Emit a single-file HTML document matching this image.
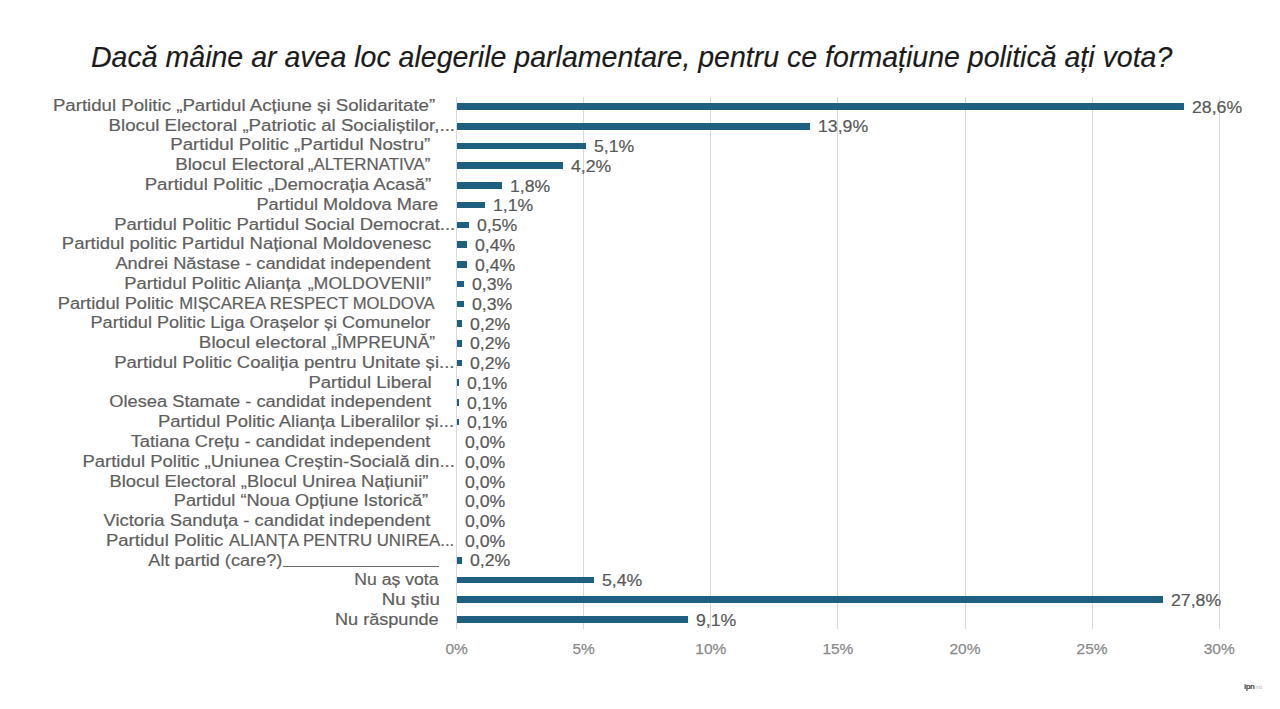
<!DOCTYPE html>
<html><head><meta charset="utf-8">
<style>
html,body{margin:0;padding:0;background:#fff;}
body{position:relative;overflow:hidden;font-family:"Liberation Sans",sans-serif;}
body{width:1280px;height:709px;}
.t{position:absolute;left:91.45px;top:37.2px;font-size:30px;line-height:40px;font-style:italic;color:#1b1b1b;white-space:nowrap;-webkit-text-stroke:0.15px #1b1b1b;transform-origin:0 50%;transform:scaleX(0.9508);}
.g{position:absolute;top:97px;height:532px;width:1px;background:#d9d9d9;}
.ax{position:absolute;top:639px;width:80px;text-align:center;font-size:15.5px;color:#8a8a8a;-webkit-text-stroke:0.25px #8a8a8a;line-height:20px;}
.lb{position:absolute;font-size:16px;line-height:20px;color:#5f5f5f;white-space:nowrap;transform-origin:100% 50%;-webkit-text-stroke:0.2px #5f5f5f;}
.b{position:absolute;height:6.6px;background:#1f6080;}
.dl{position:absolute;font-size:16px;line-height:20px;color:#595959;white-space:nowrap;transform-origin:0 50%;-webkit-text-stroke:0.2px #595959;}
.logo{position:absolute;left:1244px;top:682px;font-size:8px;font-weight:bold;color:#444;letter-spacing:-0.5px;}
.logo span{font-weight:normal;color:#bbb;font-size:5px;margin-left:1px;}
</style></head><body>
<div class="t">Dacă mâine ar avea loc alegerile parlamentare, pentru ce formațiune politică ați vota?</div>
<div class="g" style="left:456.10px"></div>
<div class="g" style="left:583.20px"></div>
<div class="g" style="left:710.30px"></div>
<div class="g" style="left:837.40px"></div>
<div class="g" style="left:964.50px"></div>
<div class="g" style="left:1091.60px"></div>
<div class="g" style="left:1218.70px"></div>
<div class="ax" style="left:416.60px">0%</div>
<div class="ax" style="left:543.70px">5%</div>
<div class="ax" style="left:670.80px">10%</div>
<div class="ax" style="left:797.90px">15%</div>
<div class="ax" style="left:925.00px">20%</div>
<div class="ax" style="left:1052.10px">25%</div>
<div class="ax" style="left:1179.20px">30%</div>
<div class="b" style="left:456.60px;top:103.20px;width:727.01px"></div>
<div class="b" style="left:456.60px;top:122.93px;width:353.34px"></div>
<div class="b" style="left:456.60px;top:142.66px;width:129.64px"></div>
<div class="b" style="left:456.60px;top:162.39px;width:106.76px"></div>
<div class="b" style="left:456.60px;top:182.12px;width:45.76px"></div>
<div class="b" style="left:456.60px;top:201.85px;width:27.96px"></div>
<div class="b" style="left:456.60px;top:221.58px;width:12.71px"></div>
<div class="b" style="left:456.60px;top:241.31px;width:10.17px"></div>
<div class="b" style="left:456.60px;top:261.04px;width:10.17px"></div>
<div class="b" style="left:456.60px;top:280.77px;width:7.63px"></div>
<div class="b" style="left:456.60px;top:300.50px;width:7.63px"></div>
<div class="b" style="left:456.60px;top:320.23px;width:5.08px"></div>
<div class="b" style="left:456.60px;top:339.96px;width:5.08px"></div>
<div class="b" style="left:456.60px;top:359.69px;width:5.08px"></div>
<div class="b" style="left:456.60px;top:379.42px;width:2.54px"></div>
<div class="b" style="left:456.60px;top:399.15px;width:2.54px"></div>
<div class="b" style="left:456.60px;top:418.88px;width:2.54px"></div>
<div class="b" style="left:456.60px;top:556.99px;width:5.08px"></div>
<div class="b" style="left:456.60px;top:576.72px;width:137.27px"></div>
<div class="b" style="left:456.60px;top:596.45px;width:706.68px"></div>
<div class="b" style="left:456.60px;top:616.18px;width:231.32px"></div>
<div class="lb" style="right:844.40px;top:95.90px;transform:scaleX(1.1648)">Partidul Politic „Partidul Acțiune și Solidaritate”</div>
<div class="lb" style="right:825.03px;top:115.67px;transform:scaleX(1.1664)">Blocul Electoral „Patriotic al Socialiștilor,...</div>
<div class="lb" style="right:849.30px;top:135.44px;transform:scaleX(1.1701)">Partidul Politic „Partidul Nostru”</div>
<div class="lb" style="right:975.93px;top:155.21px;transform:scaleX(1.1704)">Blocul Electoral</div>
<div class="lb" style="right:849.30px;top:155.21px;transform:scaleX(1.0534)">„ALTERNATIVA”</div>
<div class="lb" style="right:848.50px;top:174.98px;transform:scaleX(1.1637)">Partidul Politic „Democrația Acasă”</div>
<div class="lb" style="right:842.00px;top:194.75px;transform:scaleX(1.1346)">Partidul Moldova Mare</div>
<div class="lb" style="right:825.25px;top:214.52px;transform:scaleX(1.1549)">Partidul Politic Partidul Social Democrat...</div>
<div class="lb" style="right:849.20px;top:234.29px;transform:scaleX(1.1536)">Partidul politic Partidul Național Moldovenesc</div>
<div class="lb" style="right:849.20px;top:254.06px;transform:scaleX(1.1394)">Andrei Năstase - candidat independent</div>
<div class="lb" style="right:978.80px;top:273.83px;transform:scaleX(1.1484)">Partidul Politic Alianța</div>
<div class="lb" style="right:849.20px;top:273.83px;transform:scaleX(1.1108)">„MOLDOVENII”</div>
<div class="lb" style="right:1106.80px;top:293.60px;transform:scaleX(1.1410)">Partidul Politic</div>
<div class="lb" style="right:845.00px;top:293.60px;transform:scaleX(1.0400)">MIȘCAREA RESPECT MOLDOVA</div>
<div class="lb" style="right:849.20px;top:313.37px;transform:scaleX(1.1313)">Partidul Politic Liga Orașelor și Comunelor</div>
<div class="lb" style="right:953.12px;top:333.14px;transform:scaleX(1.1766)">Blocul electoral</div>
<div class="lb" style="right:845.00px;top:333.14px;transform:scaleX(1.0916)">„ÎMPREUNĂ”</div>
<div class="lb" style="right:825.24px;top:352.91px;transform:scaleX(1.1596)">Partidul Politic Coaliția pentru Unitate și...</div>
<div class="lb" style="right:848.04px;top:372.68px;transform:scaleX(1.1552)">Partidul Liberal</div>
<div class="lb" style="right:849.20px;top:392.45px;transform:scaleX(1.1408)">Olesea Stamate - candidat independent</div>
<div class="lb" style="right:825.75px;top:412.22px;transform:scaleX(1.1522)">Partidul Politic Alianța Liberalilor și...</div>
<div class="lb" style="right:849.20px;top:431.99px;transform:scaleX(1.1420)">Tatiana Crețu - candidat independent</div>
<div class="lb" style="right:825.25px;top:451.76px;transform:scaleX(1.1533)">Partidul Politic „Uniunea Creștin-Socială din...</div>
<div class="lb" style="right:851.50px;top:471.53px;transform:scaleX(1.1458)">Blocul Electoral „Blocul Unirea Națiunii”</div>
<div class="lb" style="right:851.50px;top:491.30px;transform:scaleX(1.1345)">Partidul “Noua Opțiune Istorică”</div>
<div class="lb" style="right:849.20px;top:511.07px;transform:scaleX(1.1493)">Victoria Sanduța - candidat independent</div>
<div class="lb" style="right:1056.20px;top:530.84px;transform:scaleX(1.1590)">Partidul Politic</div>
<div class="lb" style="right:825.55px;top:530.84px;transform:scaleX(1.0512)">ALIANȚA PENTRU UNIREA...</div>
<div class="lb" style="right:997.77px;top:550.61px;transform:scaleX(1.1325)">Alt partid (care?)</div>
<div class="lb" style="right:841.50px;top:570.38px;transform:scaleX(1.1000)">Nu aș vota</div>
<div class="lb" style="right:840.33px;top:590.15px;transform:scaleX(1.1667)">Nu știu</div>
<div class="lb" style="right:841.50px;top:609.92px;transform:scaleX(1.1308)">Nu răspunde</div>
<div class="dl" style="left:1191.61px;top:97.70px;transform:scaleX(1.1044)">28,6%</div>
<div class="dl" style="left:817.94px;top:117.43px;transform:scaleX(1.1044)">13,9%</div>
<div class="dl" style="left:594.24px;top:137.16px;transform:scaleX(1.1044)">5,1%</div>
<div class="dl" style="left:571.36px;top:156.89px;transform:scaleX(1.1044)">4,2%</div>
<div class="dl" style="left:510.36px;top:176.62px;transform:scaleX(1.1044)">1,8%</div>
<div class="dl" style="left:492.56px;top:196.35px;transform:scaleX(1.1044)">1,1%</div>
<div class="dl" style="left:477.31px;top:216.08px;transform:scaleX(1.1044)">0,5%</div>
<div class="dl" style="left:474.77px;top:235.81px;transform:scaleX(1.1044)">0,4%</div>
<div class="dl" style="left:474.77px;top:255.54px;transform:scaleX(1.1044)">0,4%</div>
<div class="dl" style="left:472.23px;top:275.27px;transform:scaleX(1.1044)">0,3%</div>
<div class="dl" style="left:472.23px;top:295.00px;transform:scaleX(1.1044)">0,3%</div>
<div class="dl" style="left:469.68px;top:314.73px;transform:scaleX(1.1044)">0,2%</div>
<div class="dl" style="left:469.68px;top:334.46px;transform:scaleX(1.1044)">0,2%</div>
<div class="dl" style="left:469.68px;top:354.19px;transform:scaleX(1.1044)">0,2%</div>
<div class="dl" style="left:467.14px;top:373.92px;transform:scaleX(1.1044)">0,1%</div>
<div class="dl" style="left:467.14px;top:393.65px;transform:scaleX(1.1044)">0,1%</div>
<div class="dl" style="left:467.14px;top:413.38px;transform:scaleX(1.1044)">0,1%</div>
<div class="dl" style="left:464.60px;top:433.11px;transform:scaleX(1.1044)">0,0%</div>
<div class="dl" style="left:464.60px;top:452.84px;transform:scaleX(1.1044)">0,0%</div>
<div class="dl" style="left:464.60px;top:472.57px;transform:scaleX(1.1044)">0,0%</div>
<div class="dl" style="left:464.60px;top:492.30px;transform:scaleX(1.1044)">0,0%</div>
<div class="dl" style="left:464.60px;top:512.03px;transform:scaleX(1.1044)">0,0%</div>
<div class="dl" style="left:464.60px;top:531.76px;transform:scaleX(1.1044)">0,0%</div>
<div class="dl" style="left:469.68px;top:551.49px;transform:scaleX(1.1044)">0,2%</div>
<div class="dl" style="left:601.87px;top:571.22px;transform:scaleX(1.1044)">5,4%</div>
<div class="dl" style="left:1171.28px;top:590.95px;transform:scaleX(1.1044)">27,8%</div>
<div class="dl" style="left:695.92px;top:610.68px;transform:scaleX(1.1044)">9,1%</div>
<div style="position:absolute;left:283.4px;top:565.7px;width:155.8px;height:1.3px;background:#6a6a6a"></div>
<div class="logo">ipn<span>md</span></div>
</body></html>
